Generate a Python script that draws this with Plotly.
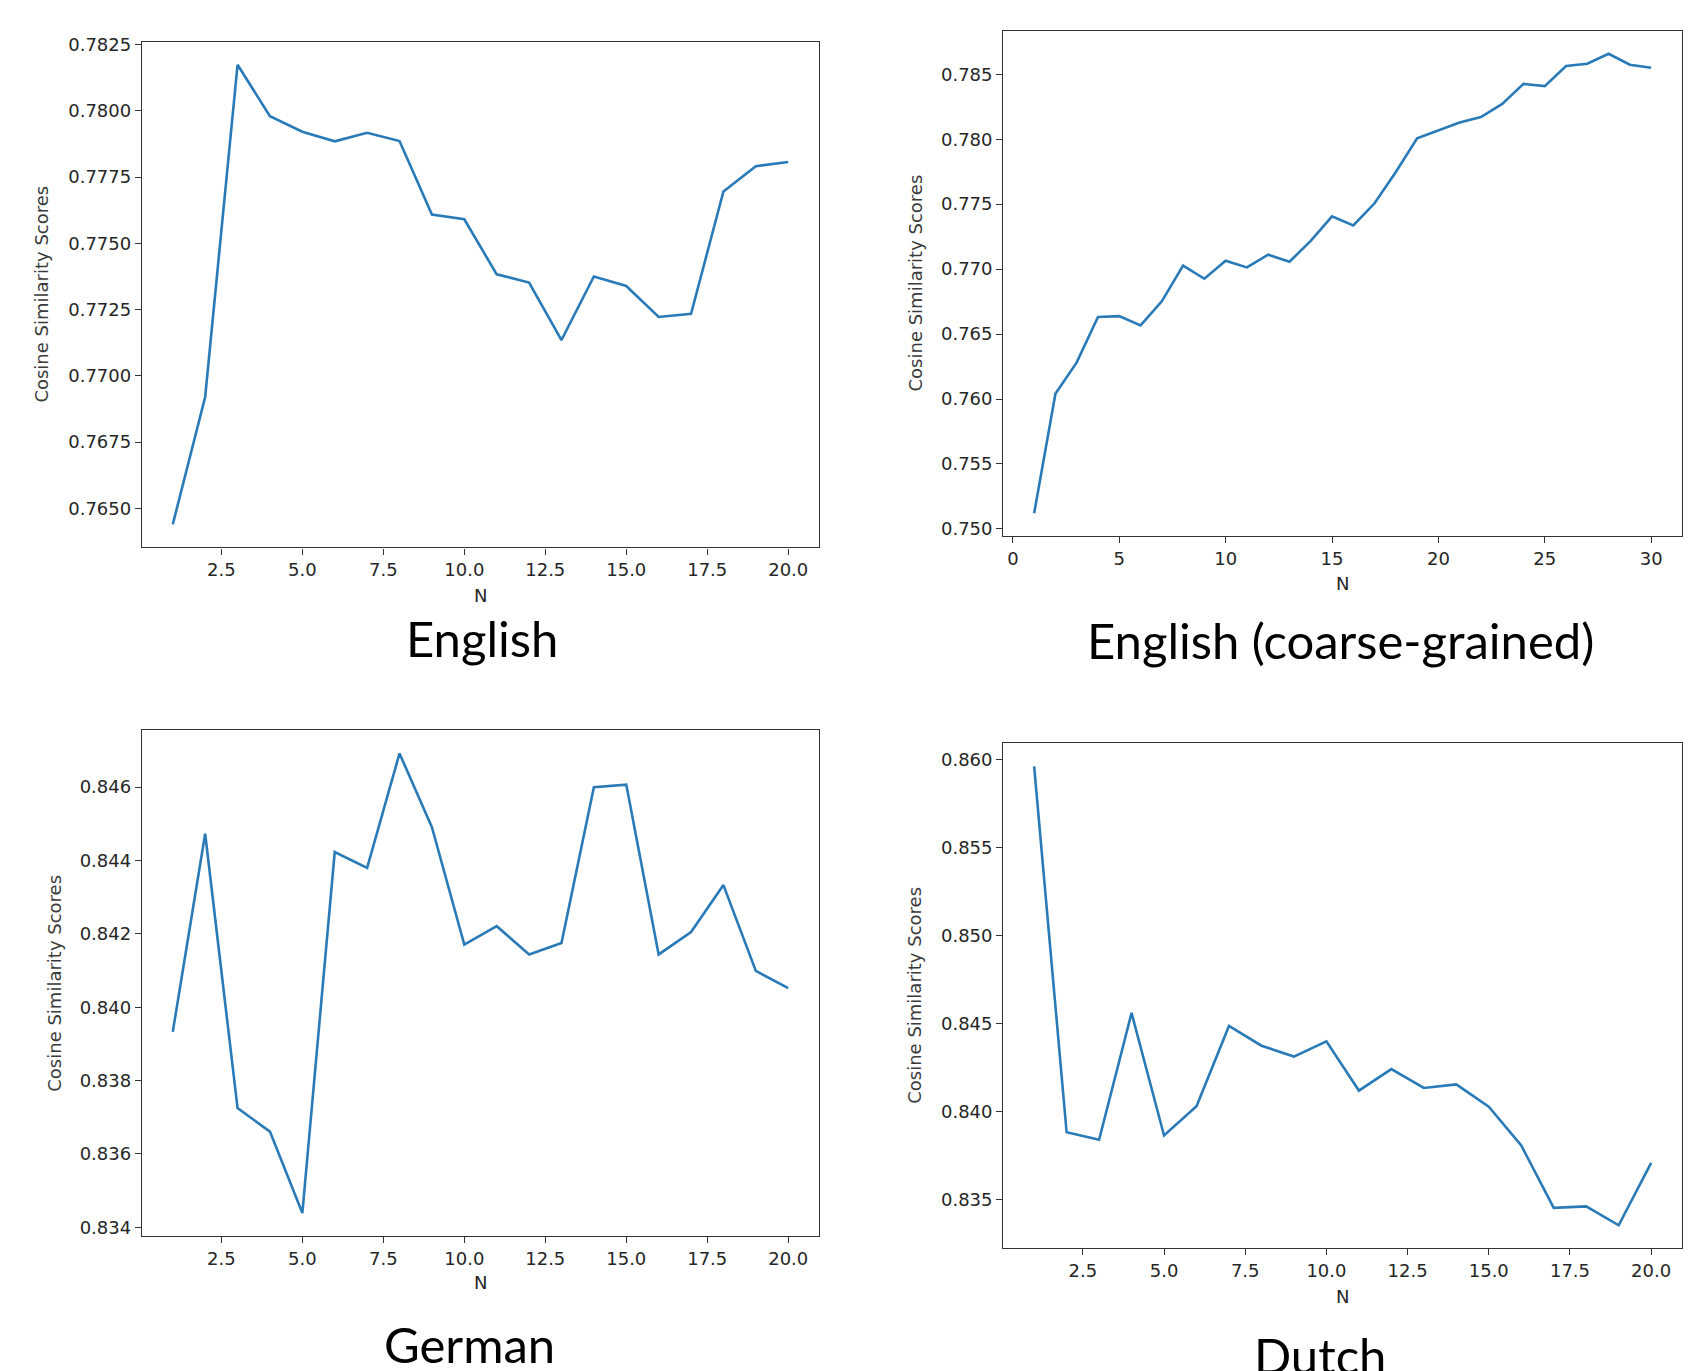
import plotly.graph_objects as go

# ---------------- data ----------------
n_20 = list(range(1, 21))
n_30 = list(range(1, 31))

english = [0.76439, 0.76920, 0.78174, 0.77980, 0.77921, 0.77885, 0.77917, 0.77886,
           0.77609, 0.77591, 0.77383, 0.77352, 0.77135, 0.77375, 0.77339, 0.77222,
           0.77234, 0.77696, 0.77791, 0.77807]
english_coarse = [0.75121, 0.76040, 0.76282, 0.76631, 0.76638, 0.76567, 0.76752, 0.77027,
                  0.76926, 0.77064, 0.77013, 0.77111, 0.77057, 0.77218, 0.77406, 0.77336,
                  0.77507, 0.77748, 0.78007, 0.78067, 0.78128, 0.78171, 0.78272, 0.78426,
                  0.78409, 0.78564, 0.78581, 0.78658, 0.78574, 0.78550]
german = [0.83933, 0.84473, 0.83725, 0.83661, 0.83439, 0.84423, 0.84380, 0.84692,
          0.84491, 0.84171, 0.84221, 0.84144, 0.84175, 0.84600, 0.84607, 0.84144,
          0.84205, 0.84333, 0.84099, 0.84052]
dutch = [0.85963, 0.83884, 0.83842, 0.84562, 0.83866, 0.84032, 0.84488, 0.84376,
         0.84314, 0.84401, 0.84121, 0.84243, 0.84136, 0.84156, 0.84030, 0.83809,
         0.83455, 0.83463, 0.83356, 0.83710]

panel_titles = ["English", "English (coarse-grained)", "German", "Dutch"]
x_label = "N"
y_label = "Cosine Similarity Scores"

W, H = 1708, 1371
LINE = "#2a7ab8"
TICKFONT = dict(family="DejaVu Sans", size=18, color="#262626")


def px_x(v):
    return v / W


def px_y(v):
    # compensate for the slight vertical offset/compression seen in the capture
    v = (v - 7.2) / 0.9922
    return 1 - v / H


def rng(vals, m=0.05):
    lo, hi = min(vals), max(vals)
    d = (hi - lo) * m
    return [lo - d, hi + d]


# panel frames in pixels: left, right, top, bottom
frames = [
    (142, 819, 41, 546.7),
    (1003.3, 1682, 30, 535.5),
    (142, 819, 729.8, 1235.5),
    (1003.3, 1682, 742.7, 1247.7),
]
series = [(n_20, english), (n_30, english_coarse), (n_20, german), (n_20, dutch)]
x_dticks = [2.5, 5, 2.5, 2.5]
x_fmts = [".1f", "d", ".1f", ".1f"]
y_dticks = [0.0025, 0.005, 0.002, 0.005]
y_fmts = [".4f", ".3f", ".3f", ".3f"]

fig = go.Figure()
layout = dict(
    width=W, height=H,
    margin=dict(l=0, r=0, t=0, b=0),
    paper_bgcolor="white", plot_bgcolor="white",
    showlegend=False,
    annotations=[],
)

# label positions (px)
ylab_x = [42, 915, 54.5, 915]
xlab_y = [595, 583, 1282, 1296]
title_pos = [(481.5, 637), (1340, 639), (469, 1344), (1320, 1355)]

for i, ((l, r, t, b), (xs, ys)) in enumerate(zip(frames, series)):
    k = "" if i == 0 else str(i + 1)
    fig.add_trace(go.Scatter(x=xs, y=ys, mode="lines",
                             line=dict(color=LINE, width=2.6),
                             xaxis="x" + k, yaxis="y" + k, hoverinfo="skip"))
    common = dict(showgrid=False, zeroline=False, showline=True, mirror=True,
                  linecolor="#333333", linewidth=1.4, ticks="outside", ticklen=6,
                  tickwidth=1.4, tickcolor="#333333", tickfont=TICKFONT)
    layout["xaxis" + k] = dict(common, domain=[px_x(l), px_x(r)], anchor="y" + k,
                               range=rng(xs), tick0=0, dtick=x_dticks[i],
                               tickformat=x_fmts[i])
    layout["yaxis" + k] = dict(common, domain=[px_y(b), px_y(t)], anchor="x" + k,
                               range=rng(ys), tick0=0, dtick=y_dticks[i],
                               tickformat=y_fmts[i])
    layout["annotations"].append(dict(
        text=x_label, xref="paper", yref="paper", x=px_x((l + r) / 2), y=px_y(xlab_y[i]),
        xanchor="center", yanchor="middle", showarrow=False,
        font=dict(family="DejaVu Sans", size=18, color="#262626")))
    layout["annotations"].append(dict(
        text=y_label, xref="paper", yref="paper", x=px_x(ylab_x[i]), y=px_y((t + b) / 2),
        xanchor="center", yanchor="middle", textangle=-90, showarrow=False,
        font=dict(family="DejaVu Sans", size=18, color="#3a3a3a")))
    tx, ty = title_pos[i]
    layout["annotations"].append(dict(
        text=panel_titles[i], xref="paper", yref="paper", x=px_x(tx), y=px_y(ty),
        xanchor="center", yanchor="middle", showarrow=False,
        font=dict(family="Lato", size=49, color="#000000")))

fig.update_layout(**layout)
fig.write_html(
    "out.html",
    config={"displayModeBar": False},
    post_script="document.body.style.margin='0';document.body.style.padding='0';"
                "document.documentElement.style.overflow='hidden';",
)
